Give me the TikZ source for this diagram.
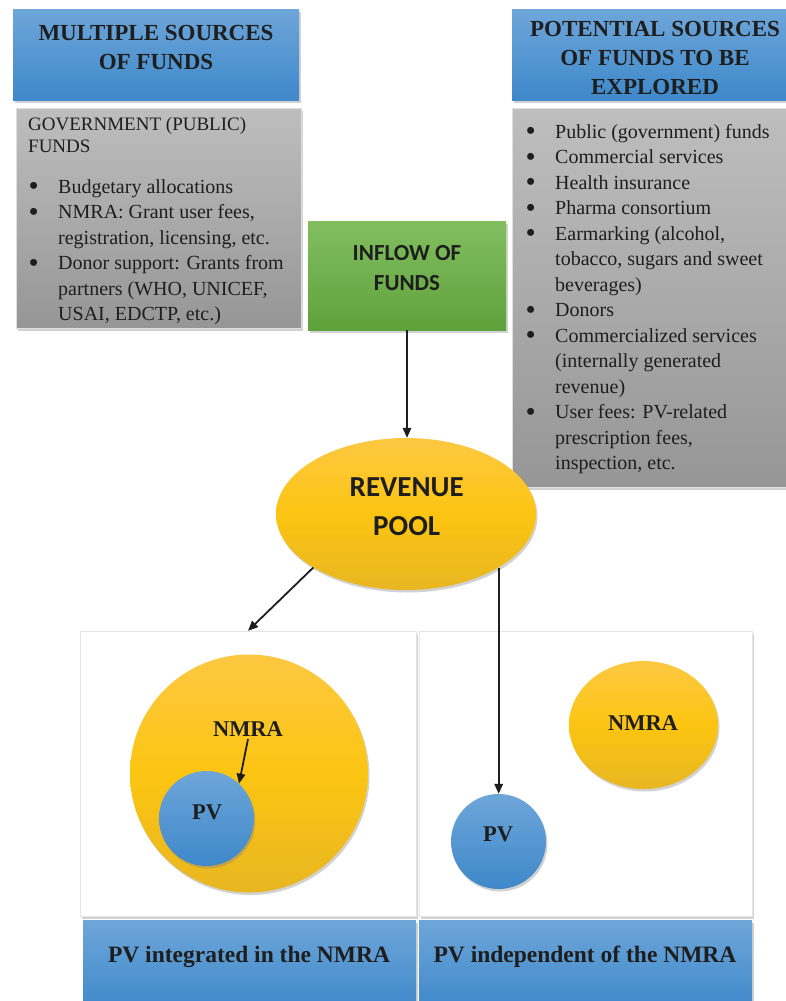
\documentclass[tikz,border=0pt]{standalone}
\usepackage{fontspec}
\setmainfont{Liberation Serif}
\newfontfamily\calibri{Carlito}
\usepackage{tikz}
\usetikzlibrary{arrows.meta, shadows, shapes.geometric, positioning}
\definecolor{hdrbluetop}{RGB}{110,166,217}
\definecolor{hdrbluebot}{RGB}{62,136,202}
\definecolor{boxgraytop}{RGB}{190,190,190}
\definecolor{boxgraybot}{RGB}{150,150,150}
\definecolor{inflowtop}{RGB}{130,190,96}
\definecolor{inflowbot}{RGB}{94,162,60}
\definecolor{pooltop}{RGB}{253,200,66}
\definecolor{poolmid}{RGB}{252,197,18}
\definecolor{poolbot}{RGB}{232,182,34}
\definecolor{inktext}{RGB}{30,30,30}
\newcommand{\fundbullet}{\makebox[29.5pt][l]{\raisebox{-2.4pt}{\scalebox{1.45}{\textbullet}}}}
\newcommand{\fundindent}{\hspace*{29.5pt}}

\begin{document}
\begin{tikzpicture}[
    x=1pt, y=-1pt,
    softshadow/.style={drop shadow={opacity=0.35, shadow xshift=1.5pt, shadow yshift=-2.5pt}},
    bluebox/.style={rectangle, inner sep=0pt, top color=hdrbluetop, bottom color=hdrbluebot, softshadow},
    graybox/.style={rectangle, inner sep=0pt, draw=white!75!gray, top color=boxgraytop, bottom color=boxgraybot, softshadow},
    greenbox/.style={rectangle, inner sep=0pt, top color=inflowtop, bottom color=inflowbot, softshadow},
    yellowdisc/.style={ellipse, inner sep=0pt, top color=pooltop, bottom color=poolbot, middle color=poolmid, softshadow},
    bluedisc/.style={circle, inner sep=0pt, top color=hdrbluetop, bottom color=hdrbluebot, softshadow},
    panel/.style={rectangle, inner sep=0pt, fill=white, draw=gray!20, softshadow},
    headtext/.style={align=center, inner sep=0pt, text=inktext, font=\fontsize{23}{29.3}\selectfont\bfseries},
    listtext/.style={align=left, anchor=west, inner sep=0pt, text=inktext, font=\fontsize{20}{25.5}\selectfont},
    labeltext/.style={inner sep=2pt, text=inktext, font=\fontsize{22.5}{27}\selectfont\bfseries},
    arrow/.style={-{Triangle[length=10pt, width=8.5pt]}, line width=1.8pt, draw=inktext}
]
    \useasboundingbox (0,0) rectangle (786,1001);
    \clip (0,0) rectangle (786,1001);
    \fill[white] (0,0) rectangle (786,1001);

    % Headers
    \node[bluebox, minimum width=286, minimum height=91] (srchead) at (156, 54.5) {};
    \node[headtext] (srcheadtext) at (156, 47.7) {MULTIPLE SOURCES\\OF FUNDS};
    \node[bluebox, minimum width=288, minimum height=91] (pothead) at (656, 54.5) {};
    \node[headtext] (potheadtext) at (655, 58.1) {POTENTIAL SOURCES\\OF FUNDS TO BE\\EXPLORED};

    % Current sources
    \node[graybox, minimum width=285, minimum height=220] (govbox) at (158.5, 218) {};
    \node[listtext, font=\fontsize{19}{22}\selectfont] (govhead) at (28, 135.4) {GOVERNMENT (PUBLIC)\\FUNDS};
    \node[listtext] (govlist) at (28.5, 252.4) {\fundbullet Budgetary allocations\\
        \fundbullet NMRA: Grant user fees,\\
        \fundindent registration, licensing, etc.\\
        \fundbullet Donor support: Grants from\\
        \fundindent partners (WHO, UNICEF,\\
        \fundindent USAI, EDCTP, etc.)};

    % Potential sources
    \node[graybox, minimum width=288, minimum height=379] (potbox) at (656, 297.5) {};
    \node[listtext] (potlist) at (525.5, 299) {\fundbullet Public (government) funds\\
        \fundbullet Commercial services\\
        \fundbullet Health insurance\\
        \fundbullet Pharma consortium\\
        \fundbullet Earmarking (alcohol,\\
        \fundindent tobacco, sugars and sweet\\
        \fundindent beverages)\\
        \fundbullet Donors\\
        \fundbullet Commercialized services\\
        \fundindent (internally generated\\
        \fundindent revenue)\\
        \fundbullet User fees: PV-related\\
        \fundindent prescription fees,\\
        \fundindent inspection, etc.};

    % Inflow and pool
    \node[greenbox, minimum width=198, minimum height=109] (inflow) at (407, 275.5) {};
    \node[headtext, font=\calibri\fontsize{23}{30}\selectfont\bfseries] (inflowtext) at (407, 268.1) {INFLOW OF\\FUNDS};
    \node[yellowdisc, minimum width=260, minimum height=152] (pool) at (406, 514) {};
    \node[headtext, font=\calibri\fontsize{29}{39}\selectfont\bfseries] (pooltext) at (406.7, 506.2) {REVENUE\\POOL};

    % Panels
    \node[panel, minimum width=336, minimum height=285] (panela) at (248, 773.5) {};
    \node[panel, minimum width=333, minimum height=285] (panelb) at (585.5, 773.5) {};
    \node[bluebox, minimum width=333, minimum height=90] (capa) at (249.5, 965) {};
    \node[bluebox, minimum width=333, minimum height=90] (capb) at (585.5, 965) {};
    \node[labeltext, font=\fontsize{23.5}{28}\selectfont\bfseries] (capatext) at (249, 957) {PV integrated in the NMRA};
    \node[labeltext, font=\fontsize{23.5}{28}\selectfont\bfseries] (capbtext) at (585, 957) {PV independent of the NMRA};

    % Integrated
    \node[yellowdisc, minimum width=238, minimum height=238] (nmradisca) at (249, 773.5) {};
    \node[bluedisc, minimum size=95] (pvdisca) at (206.5, 818.5) {};
    \node[labeltext] (nmraatext) at (248, 729.5) {NMRA};
    \node[labeltext] (pvatext) at (207, 811.8) {PV};

    % Independent
    \node[yellowdisc, minimum width=149, minimum height=128] (nmradiscb) at (643.5, 725) {};
    \node[bluedisc, minimum size=95] (pvdiscb) at (498.5, 841.5) {};
    \node[labeltext] (nmrabtext) at (643, 723.3) {NMRA};
    \node[labeltext] (pvbtext) at (498, 834.7) {PV};

    % Arrows
    \draw[arrow] (inflow.south) -- (inflow.south |- pool.north);
    \draw[arrow] (pool.210) -- (panela.north);
    \draw[arrow] (pool.-30) -- (pool.-30 |- pvdiscb.north);
    \draw[arrow] (nmraatext.south) -- (pvdisca.47);
\end{tikzpicture}
\end{document}
